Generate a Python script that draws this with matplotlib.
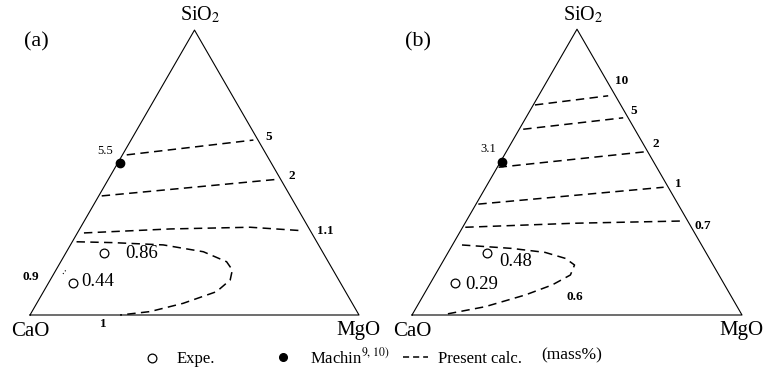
import numpy as np
import matplotlib
matplotlib.use('Agg')
from matplotlib import pyplot as plt

plt.rcParams['font.family'] = ['Liberation Serif', 'DejaVu Serif']
plt.rcParams['mathtext.fontset'] = 'stix'

# compositions as mass fractions (SiO2, MgO); CaO is the rest
exp_sio2 = [0.218, 0.111]
exp_mgo = [0.117, 0.075]
machin_sio2 = [0.534]
machin_mgo = [0.006]

# (a) iso-lines
a_labels = ['5', '2', '1.1', '1']
a_sio2 = [[0.562, 0.614],
          [0.418, 0.476],
          [0.288, 0.302, 0.308, 0.296],
          [0.257, 0.254, 0.246, 0.222, 0.187, 0.158, 0.123, 0.082, 0.041, 0.012, 0.0]]
a_mgo = [[0.013, 0.372],
         [0.009, 0.512],
         [0.020, 0.275, 0.515, 0.678],
         [0.013, 0.126, 0.282, 0.416, 0.504, 0.536, 0.547, 0.526, 0.445, 0.359, 0.274]]
a_frag_sio2 = [0.144, 0.158]   # tiny piece of the 0.9 line
a_frag_mgo = [0.007, 0.009]
a_exp_vals = ['0.86', '0.44']
a_machin = '5.5'

# (b) iso-lines
b_labels = ['10', '5', '2', '1', '0.7', '0.6']
b_sio2 = [[0.735, 0.767],
          [0.650, 0.690],
          [0.517, 0.571],
          [0.388, 0.447],
          [0.307, 0.321, 0.329],
          [0.245, 0.233, 0.219, 0.198, 0.175, 0.140, 0.105, 0.070, 0.029, 0.0035]]
b_mgo = [[0.005, 0.211],
         [0.012, 0.295],
         [0.004, 0.420],
         [0.007, 0.539],
         [0.008, 0.329, 0.658],
         [0.029, 0.186, 0.294, 0.366, 0.405, 0.410, 0.372, 0.308, 0.207, 0.104]]
b_exp_vals = ['0.48', '0.29']
b_machin = '3.1'

SQ = np.sqrt(3) / 2


def tern(s, m, ox, side, oy=315):
    s = np.asarray(s, dtype=float)
    m = np.asarray(m, dtype=float)
    return ox + side * (m + s / 2), oy - side * SQ * s


fig = plt.figure(figsize=(7.65, 3.87), dpi=100)
ax = fig.add_axes([0, 0, 1, 1])
ax.set_xlim(0, 765)
ax.set_ylim(387, 0)
ax.axis('off')

dash = dict(color='black', lw=1.1, dashes=(5.5, 3.5))


def panel(ox, side, sio2, mgo, tag):
    x, y = tern([0, 0, 1, 0], [0, 1, 0, 0], ox, side)
    ax.plot(x, y, color='black', lw=0.8)
    for s, m in zip(sio2, mgo):
        x, y = tern(s, m, ox, side)
        ax.plot(x, y, **dash)
    x, y = tern(exp_sio2, exp_mgo, ox, side)
    ax.plot(x, y, 'o', ms=6.3, mfc='white', mec='black', mew=0.9)
    x, y = tern(machin_sio2, machin_mgo, ox, side)
    ax.plot(x, y, 'o', ms=6, color='black')
    ax.text(ox + 6, 42, tag, fontsize=16, ha='center', va='center')
    ax.text(ox + side / 2 + 6, 15, 'SiO$_2$', fontsize=14.5, ha='center', va='center')
    ax.text(ox, 331, 'CaO', fontsize=15, ha='center', va='center')
    ax.text(ox + side - 1, 331, 'MgO', fontsize=15, ha='center', va='center')


panel(30, 329, a_sio2, a_mgo, '(a)')
panel(412, 330, b_sio2, b_mgo, '(b)')

x, y = tern(a_frag_sio2, a_frag_mgo, 30, 329)
ax.plot(x + 7, y, color='black', lw=0.8, dashes=(1, 2))

bold = dict(fontsize=9.5, fontweight='bold', ha='center', va='center')
for lab, (tx, ty) in zip(a_labels + ['0.9'], [(268.3, 136.7), (291.7, 176), (325.5, 231), (103.8, 324), (31, 277.5)]):
    ax.text(tx, ty, lab, **bold)
for lab, (tx, ty) in zip(b_labels, [(621.7, 81), (633.3, 110.5), (655.5, 144), (678.3, 183.8), (703.3, 225.8), (574.6, 297)]):
    ax.text(tx, ty, lab, **bold)

ax.text(105.5, 150.8, a_machin, fontsize=9, ha='center', va='center')
ax.text(488.3, 149.2, b_machin, fontsize=9, ha='center', va='center')

for lab, (tx, ty) in zip(a_exp_vals, [(125, 254), (81.7, 282)]):
    ax.text(tx, ty, lab, fontsize=13.5, ha='left', va='center')
for lab, (tx, ty) in zip(b_exp_vals, [(499.3, 262), (465.3, 284.5)]):
    ax.text(tx, ty, lab, fontsize=13.5, ha='left', va='center')

# legend
ax.plot([151.7], [358], 'o', ms=6.3, mfc='white', mec='black', mew=0.9)
ax.text(176.7, 363, 'Expe.', fontsize=12, ha='left', va='baseline')
ax.plot([283.3], [356.7], 'o', ms=5.5, color='black')
ax.text(310, 363, 'Machin$^{9,\\,10)}$', fontsize=12, ha='left', va='baseline')
ax.plot([403.3, 428.3], [357.3, 357.3], color='black', lw=1.1, dashes=(4, 2.6))
ax.text(438.3, 363, 'Present calc.', fontsize=12, ha='left', va='baseline')
ax.text(541.7, 359.5, '(mass%)', fontsize=12.5, ha='left', va='baseline')

fig.savefig('out.png', dpi=100)
